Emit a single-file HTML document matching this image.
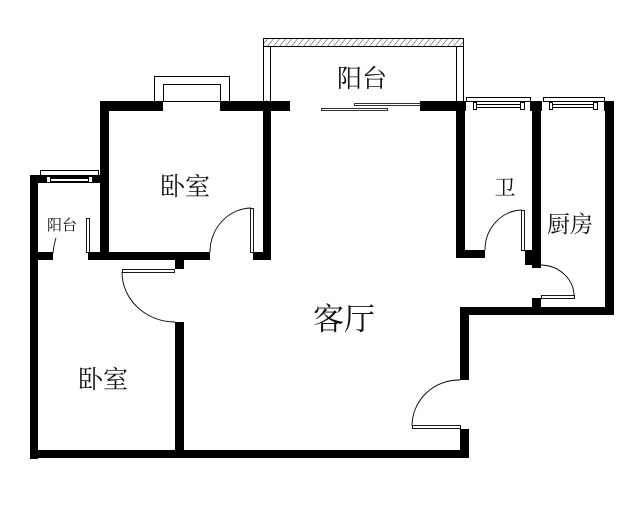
<!DOCTYPE html>
<html><head><meta charset="utf-8"><style>
html,body{margin:0;padding:0;background:#fff;}
svg{display:block;}
text{font-family:"Liberation Sans","Noto Serif CJK SC","Noto Sans CJK SC",serif;fill:#111;}
</style></head><body>
<svg width="635" height="528" viewBox="0 0 635 528" xmlns="http://www.w3.org/2000/svg">
<defs>
<pattern id="h" width="6" height="8" patternUnits="userSpaceOnUse" patternTransform="skewX(-40)">
<line x1="0" y1="0" x2="0" y2="8" stroke="#000" stroke-width="1"/>
</pattern>
</defs>
<rect width="635" height="528" fill="#fff"/>
<!-- main balcony hatched rail -->
<rect x="263.5" y="38.5" width="200" height="8" fill="url(#h)" stroke="#000"/>
<rect x="263.5" y="46.5" width="7" height="55" fill="none" stroke="#000"/>
<rect x="456.5" y="46.5" width="7" height="55" fill="none" stroke="#000"/>
<polygon points="263,110 266.5,101 270,110" fill="#fff" stroke="#000" stroke-width="0.8"/>
<!-- bay window bedroom -->
<rect x="154.5" y="76.5" width="75" height="25" fill="none" stroke="#000"/>
<rect x="163.5" y="84.5" width="57" height="17" fill="none" stroke="#000"/>
<g fill="#000">
<!-- top walls -->
<rect x="100" y="101" width="63" height="10"/>
<rect x="220" y="101" width="70" height="10"/>
<rect x="420" y="101" width="46" height="10"/>
<rect x="530" y="101" width="12" height="10"/>
<rect x="604" y="101" width="10" height="10"/>
<!-- bedroom1 -->
<rect x="100" y="101" width="9" height="159"/>
<rect x="263" y="110" width="8" height="150"/>
<rect x="88" y="252" width="122" height="8"/>
<rect x="253" y="252" width="18" height="8"/>
<rect x="175" y="258" width="9" height="11"/>
<!-- small balcony -->
<rect x="30" y="175" width="70" height="8"/>
<rect x="30" y="175" width="8" height="284"/>
<rect x="30" y="252" width="23" height="8"/>
<!-- bedroom2 / living -->
<rect x="175" y="322" width="9" height="136"/>
<rect x="30" y="450" width="439" height="8"/>
<rect x="460" y="307" width="9" height="73"/>
<rect x="460" y="429" width="9" height="29"/>
<rect x="460" y="307" width="154" height="8"/>
<!-- bath -->
<rect x="456" y="101" width="9" height="157"/>
<rect x="456" y="250" width="29" height="8"/>
<rect x="532" y="101" width="9" height="167"/>
<rect x="525" y="250" width="16" height="15"/>
<rect x="532" y="298" width="9" height="10"/>
<rect x="605" y="101" width="9" height="214"/>
</g>
<!-- small balcony window -->
<rect x="40.5" y="170.5" width="58" height="5" fill="#fff" stroke="#000"/>
<rect x="46.5" y="176.5" width="4" height="6" fill="#fff" stroke="#000"/>
<rect x="88.5" y="176.5" width="4" height="6" fill="#fff" stroke="#000"/>
<rect x="50.5" y="178.5" width="38" height="3" fill="#fff" stroke="#000"/>
<!-- bath & kitchen windows -->
<rect x="466.5" y="97.5" width="64" height="4" fill="#fff" stroke="#000"/>
<rect x="473.5" y="102.5" width="3" height="7" fill="#fff" stroke="#000"/>
<rect x="520.5" y="102.5" width="4" height="7" fill="#fff" stroke="#000"/>
<rect x="476.5" y="104.5" width="44" height="3" fill="#fff" stroke="#000"/>
<rect x="543.5" y="97.5" width="61" height="4" fill="#fff" stroke="#000"/>
<rect x="549.5" y="102.5" width="3" height="7" fill="#fff" stroke="#000"/>
<rect x="593.5" y="102.5" width="4" height="7" fill="#fff" stroke="#000"/>
<rect x="552.5" y="104.5" width="41" height="3" fill="#fff" stroke="#000"/>
<!-- sliding doors -->
<rect x="321.5" y="108.5" width="66" height="2" fill="#fff" stroke="#000" stroke-width="0.8"/>
<rect x="354.5" y="103.5" width="66" height="2" fill="#fff" stroke="#000" stroke-width="0.8"/>
<!-- doors -->
<g fill="#fff" stroke="#000" stroke-width="0.9">
<rect x="250.5" y="208.5" width="3" height="44"/>
<rect x="86.5" y="218.5" width="3" height="34"/>
<rect x="122.5" y="269.5" width="52" height="3"/>
<rect x="521.5" y="210.5" width="3" height="40"/>
<rect x="541.5" y="295.5" width="33" height="3"/>
<rect x="412.5" y="425.5" width="48" height="3"/>
</g>
<g fill="none" stroke="#000" stroke-width="0.9">
<path d="M210,252 A42,44 0 0 1 251,208"/>
<path d="M122,272 A53,50 0 0 0 175,322"/>
<path d="M485,250 A38,40 0 0 1 522,210"/>
<path d="M541,265 A34,31 0 0 1 574,296"/>
<path d="M412,426 A47,46 0 0 1 460,380"/>
<path d="M53,253 Q54,244 56,238"/>
</g>
<!-- labels -->
<text x="185" y="195" font-size="25" text-anchor="middle">卧室</text>
<text x="362" y="87" font-size="25" text-anchor="middle">阳台</text>
<text x="62" y="230" font-size="15" text-anchor="middle">阳台</text>
<text x="505" y="195" font-size="21" text-anchor="middle">卫</text>
<text x="570" y="232" font-size="23" text-anchor="middle">厨房</text>
<text x="344" y="330" font-size="31" text-anchor="middle">客厅</text>
<text x="103" y="388" font-size="25" text-anchor="middle">卧室</text>
</svg>
</body></html>
